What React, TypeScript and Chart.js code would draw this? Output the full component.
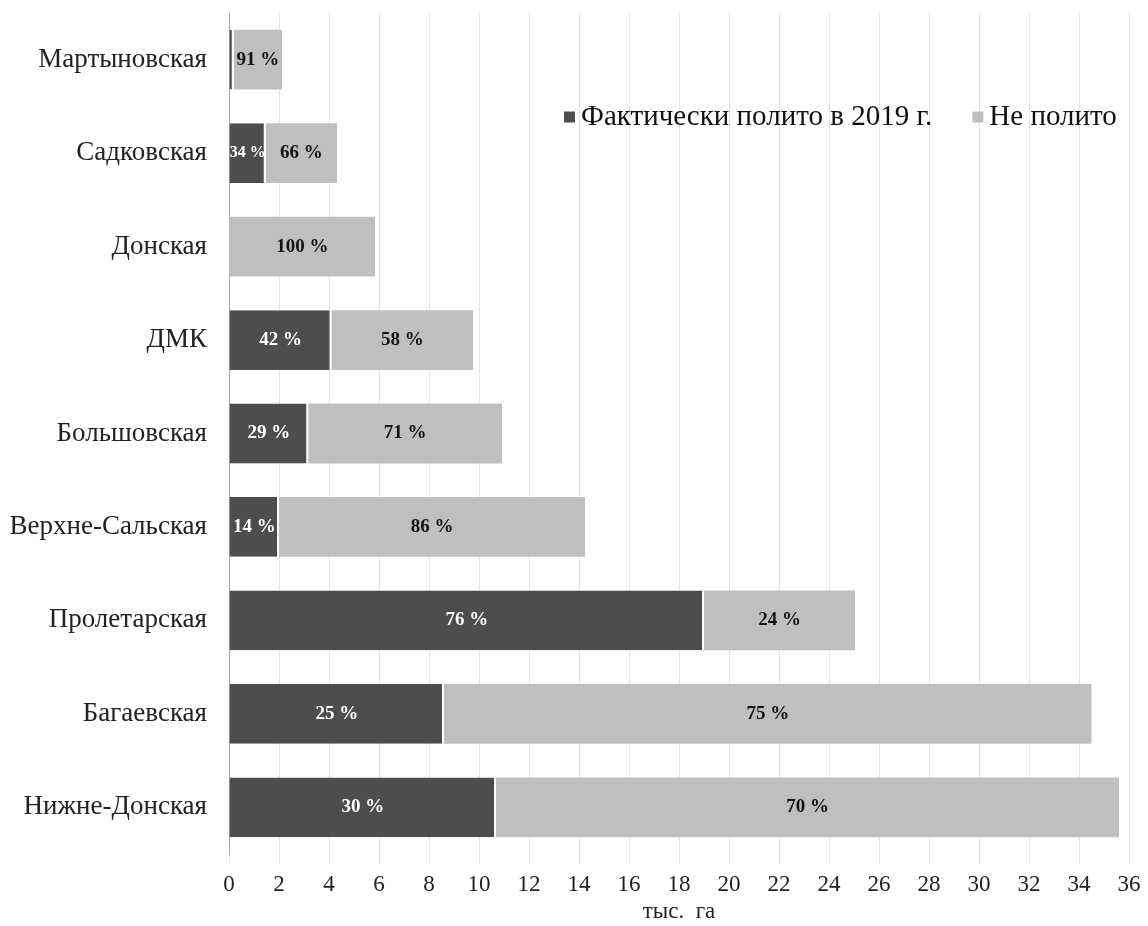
import React, { useEffect, useRef } from "react";
import { Chart, registerables } from "chart.js";

Chart.register(...registerables);

const categories = [
  "Мартыновская",
  "Садковская",
  "Донская",
  "ДМК",
  "Большовская",
  "Верхне-Сальская",
  "Пролетарская",
  "Багаевская",
  "Нижне-Донская",
];
const wateredValues = [0.19, 1.47, 0, 4.1, 3.17, 2.0, 19.0, 8.6, 10.68];
const notWateredValues = [1.93, 2.85, 5.84, 5.66, 7.75, 12.24, 6.04, 25.9, 24.92];
const wateredLabels = ["", "34 %", "", "42 %", "29 %", "14 %", "76 %", "25 %", "30 %"];
const notWateredLabels = ["91 %", "66 %", "100 %", "58 %", "71 %", "86 %", "24 %", "75 %", "70 %"];
const seriesNames = ["Фактически полито в 2019 г.", "Не полито"];
const xTicks = [0, 2, 4, 6, 8, 10, 12, 14, 16, 18, 20, 22, 24, 26, 28, 30, 32, 34, 36];
const axisTitle = "тыс.  га";

const DARK = "#4d4d4d";
const LIGHT = "#bfbfbf";
const SERIF = "'Liberation Serif', 'Times New Roman', serif";

const labelPlugin = {
  id: "barLabels",
  afterDraw(chart: any) {
    const ctx = chart.ctx;
    const sets = [
      { idx: 0, labels: wateredLabels, color: "#ffffff" },
      { idx: 1, labels: notWateredLabels, color: "#111111" },
    ];
    ctx.save();
    ctx.textAlign = "center";
    ctx.textBaseline = "middle";
    sets.forEach((s) => {
      const meta = chart.getDatasetMeta(s.idx);
      meta.data.forEach((bar: any, i: number) => {
        const t = s.labels[i];
        if (!t) return;
        const w = Math.abs(bar.x - bar.base);
        const size = w < 45 && s.idx === 0 ? 16 : 19;
        ctx.font = `bold ${size}px ${SERIF}`;
        ctx.fillStyle = s.color;
        ctx.fillText(t, (bar.x + bar.base) / 2, bar.y);
      });
    });
    // legend inside the plot area
    const ly = 117;
    let lx = 564;
    ctx.textAlign = "left";
    ctx.font = `29px ${SERIF}`;
    const colors = [DARK, LIGHT];
    seriesNames.forEach((name, i) => {
      ctx.fillStyle = colors[i];
      ctx.fillRect(lx, ly - 5.5, 11, 11);
      ctx.fillStyle = "#111111";
      ctx.fillText(name, lx + 17, ly);
      lx += 17 + ctx.measureText(name).width + 40;
    });
    ctx.restore();
  },
};

export default function App() {
  const ref = useRef<HTMLCanvasElement | null>(null);
  useEffect(() => {
    if (!ref.current) return;
    const chart = new Chart(ref.current, {
      type: "bar",
      data: {
        labels: categories,
        datasets: [
          {
            label: seriesNames[0],
            data: wateredValues,
            backgroundColor: DARK,
            borderColor: "#ffffff",
            borderWidth: { right: 2, left: 0, top: 0, bottom: 0 },
            borderSkipped: false,
            categoryPercentage: 1,
            barPercentage: 0.64,
          },
          {
            label: seriesNames[1],
            data: notWateredValues,
            backgroundColor: LIGHT,
            borderWidth: 0,
            categoryPercentage: 1,
            barPercentage: 0.64,
          },
        ],
      },
      options: {
        indexAxis: "y",
        animation: false,
        responsive: true,
        maintainAspectRatio: false,
        layout: { padding: { top: 13, right: 19, left: 0, bottom: 0 } },
        plugins: {
          legend: { display: false },
          tooltip: { enabled: false },
        },
        scales: {
          x: {
            stacked: true,
            min: 0,
            max: 36,
            z: 1,
            afterBuildTicks: (scale: any) => {
              scale.ticks = xTicks.map((v) => ({ value: v }));
            },
            afterFit: (scale: any) => {
              scale.height = 926 - 854;
              scale.paddingLeft = 0;
              scale.paddingRight = 0;
            },
            grid: {
              color: "rgba(0,0,0,0.1)",
              drawTicks: true,
              tickLength: 10,
            },
            border: { display: false },
            ticks: {
              color: "#222222",
              font: { family: SERIF, size: 23 },
              padding: 7,
              maxRotation: 0,
              autoSkip: false,
            },
            title: {
              display: true,
              text: axisTitle,
              color: "#222222",
              font: { family: SERIF, size: 23 },
              padding: { top: 0, bottom: 0 },
            },
          },
          y: {
            stacked: true,
            afterFit: (scale: any) => {
              scale.width = 229;
              scale.paddingTop = 0;
              scale.paddingBottom = 0;
            },
            grid: { display: false, drawTicks: false },
            border: { display: true, color: "#a6a6a6", width: 1 },
            ticks: {
              color: "#222222",
              font: { family: SERIF, size: 27 },
              padding: 22,
              autoSkip: false,
            },
          },
        },
      },
      plugins: [labelPlugin],
    });
    return () => chart.destroy();
  }, []);
  return (
    <div style={{ position: "fixed", left: 0, top: 0, width: 1148, height: 926, background: "#fff" }}>
      <canvas ref={ref} />
    </div>
  );
}
